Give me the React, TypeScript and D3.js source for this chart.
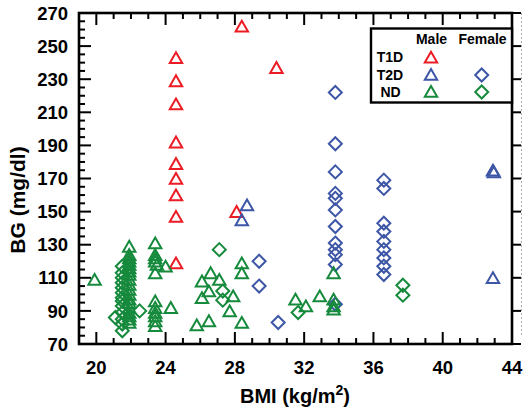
import React from "react";
import * as d3 from "d3";

// ---- Data (BMI, BG) ----
const t1dMale: [number, number][] = [
  [24.6, 243], [24.6, 229], [24.6, 215], [24.6, 192], [24.6, 179], [24.6, 170],
  [24.6, 160], [24.6, 147], [24.6, 119], [28.4, 262], [30.4, 237], [28.1, 150],
];
const t2dMale: [number, number][] = [
  [28.7, 154], [28.4, 145], [42.9, 175], [42.95, 174], [42.9, 110],
];
const t2dFemale: [number, number][] = [
  [29.4, 120], [29.4, 105], [30.5, 83],
  [33.8, 222], [33.8, 191], [33.8, 174], [33.8, 161], [33.8, 158], [33.8, 151],
  [33.8, 141], [33.8, 131], [33.8, 127], [33.8, 124], [33.8, 118], [33.8, 94],
  [36.6, 169], [36.6, 164], [36.6, 143], [36.6, 138], [36.6, 132], [36.6, 127],
  [36.6, 122], [36.6, 117], [36.6, 112],
];
const ndMale: [number, number][] = [
  [19.9, 109],
  [21.9, 129], [21.9, 124], [21.9, 122], [21.9, 120], [21.9, 118], [21.9, 116],
  [21.9, 114], [21.9, 112], [21.9, 109], [21.9, 106], [21.9, 103], [21.9, 100],
  [21.9, 97], [21.9, 95], [21.9, 92], [21.9, 89], [21.9, 87], [21.9, 85], [21.9, 83],
  [23.4, 131], [23.4, 124], [23.4, 122], [23.4, 120], [23.5, 118], [23.4, 113],
  [23.4, 96], [23.4, 92], [23.4, 89], [23.4, 87], [23.4, 84], [23.4, 81],
  [24.0, 117], [24.3, 92],
  [26.6, 113], [26.1, 108], [27.1, 109], [26.5, 102], [26.1, 98], [27.9, 99],
  [27.7, 90], [25.8, 81.5], [26.5, 84], [28.4, 83], [28.4, 119], [28.4, 113],
  [31.5, 97], [32.1, 93], [32.9, 99], [33.7, 113], [33.7, 97], [33.7, 93], [33.7, 91],
];
const ndFemale: [number, number][] = [
  [27.1, 127], [27.3, 102], [27.3, 96.5], [31.65, 89], [37.7, 105.5], [37.7, 99.5],
  [21.5, 117], [21.5, 113], [21.5, 110], [21.5, 107], [21.5, 104], [21.5, 101],
  [21.5, 98], [21.5, 96], [21.5, 93], [21.5, 89], [21.5, 85], [21.5, 82], [21.5, 78],
  [21.1, 86], [22.5, 90],
];

const xTicks = [20, 24, 28, 32, 36, 40, 44];
const yTicks = [70, 90, 110, 130, 150, 170, 190, 210, 230, 250, 270];

const RED = "#ec1c24";
const BLUE = "#3d56a6";
const GREEN = "#168a3c";
const FONT = "'Liberation Sans', Arial, sans-serif";

const W = 523, H = 412;
const L = 79, R = 512, T = 13, B = 344;

const x = d3.scaleLinear().domain([19, 44]).range([L, R]);
const y = d3.scaleLinear().domain([70, 270]).range([B, T]);

const tri = (cx: number, cy: number) =>
  `M${cx},${cy - 5.5}L${cx + 6.2},${cy + 5.3}L${cx - 6.2},${cy + 5.3}Z`;
const dia = (cx: number, cy: number) =>
  `M${cx},${cy - 6.5}L${cx + 6.5},${cy}L${cx},${cy + 6.5}L${cx - 6.5},${cy}Z`;

function Marks({ data, color, shape }: { data: [number, number][]; color: string; shape: "t" | "d" }) {
  return (
    <g fill="none" stroke={color} strokeWidth={2}>
      {data.map(([bx, bg], i) => (
        <path key={i} d={shape === "t" ? tri(x(bx), y(bg)) : dia(x(bx), y(bg))} />
      ))}
    </g>
  );
}

export default function App() {
  const minorX = d3.range(19, 44.01, 1);
  const minorY = d3.range(70, 270.01, 5);
  return (
    <svg width={W} height={H} style={{ position: "absolute", left: 0, top: 0, background: "#fff" }}>
      <rect x={0} y={0} width={W} height={H} fill="#fff" />
      {/* right dotted line */}
      <line x1={521.5} x2={521.5} y1={T} y2={B - 8} stroke="#aaa" strokeWidth={1} strokeDasharray="2,2" />
      {/* ticks */}
      <g stroke="#000" strokeWidth={2}>
        {minorX.map((v) => {
          const major = xTicks.includes(v);
          const len = major ? 12 : 6;
          return (
            <g key={"x" + v}>
              <line x1={x(v)} x2={x(v)} y1={B} y2={B - len} />
              <line x1={x(v)} x2={x(v)} y1={T} y2={T + len} />
            </g>
          );
        })}
        {minorY.map((v) => {
          const major = yTicks.includes(v);
          const len = major ? 12 : 6;
          return <line key={"y" + v} x1={L} x2={L + len} y1={y(v)} y2={y(v)} />;
        })}
        {yTicks.map((v) => (
          <line key={"r" + v} x1={R} x2={R + 9} y1={y(v)} y2={y(v)} />
        ))}
      </g>
      {/* frame */}
      <rect x={L} y={T} width={R - L} height={B - T} fill="none" stroke="#000" strokeWidth={2.6} />
      {/* tick labels */}
      <g fontFamily={FONT} fontWeight="bold" fontSize={18.5} fill="#000">
        {yTicks.map((v) => (
          <text key={v} x={68} y={y(v)} dy="0.36em" textAnchor="end">{v}</text>
        ))}
        {xTicks.map((v) => (
          <text key={v} x={x(v)} y={374} textAnchor="middle">{v}</text>
        ))}
      </g>
      {/* axis titles */}
      <text
        fontFamily={FONT} fontWeight="bold" fontSize={21}
        transform={`translate(25,200) rotate(-90)`} textAnchor="middle"
      >
        BG (mg/dl)
      </text>
      <text fontFamily={FONT} fontWeight="bold" fontSize={20} x={295} y={403} textAnchor="middle">
        BMI (kg/m<tspan fontSize={14} dy={-8}>2</tspan><tspan dy={8}>)</tspan>
      </text>
      {/* data */}
      <Marks data={t1dMale} color={RED} shape="t" />
      <Marks data={t2dMale} color={BLUE} shape="t" />
      <Marks data={t2dFemale} color={BLUE} shape="d" />
      <Marks data={ndFemale} color={GREEN} shape="d" />
      <Marks data={ndMale} color={GREEN} shape="t" />
      {/* legend */}
      <g>
        <rect x={371} y={28.5} width={141} height={74} fill="#fff" stroke="#000" strokeWidth={2.4} />
        <g fontFamily={FONT} fontWeight="bold" fontSize={14} fill="#000" textAnchor="middle">
          <text x={431.5} y={44}>Male</text>
          <text x={482.5} y={44}>Female</text>
          <text x={390} y={62}>T1D</text>
          <text x={390} y={80}>T2D</text>
          <text x={390.5} y={97}>ND</text>
        </g>
        <path d={tri(431, 57.3)} fill="none" stroke={RED} strokeWidth={2} />
        <path d={tri(431, 74.5)} fill="none" stroke={BLUE} strokeWidth={2} />
        <path d={tri(431, 91.5)} fill="none" stroke={GREEN} strokeWidth={2} />
        <path d={dia(481.7, 75)} fill="none" stroke={BLUE} strokeWidth={2} />
        <path d={dia(481.7, 92)} fill="none" stroke={GREEN} strokeWidth={2} />
      </g>
    </svg>
  );
}
